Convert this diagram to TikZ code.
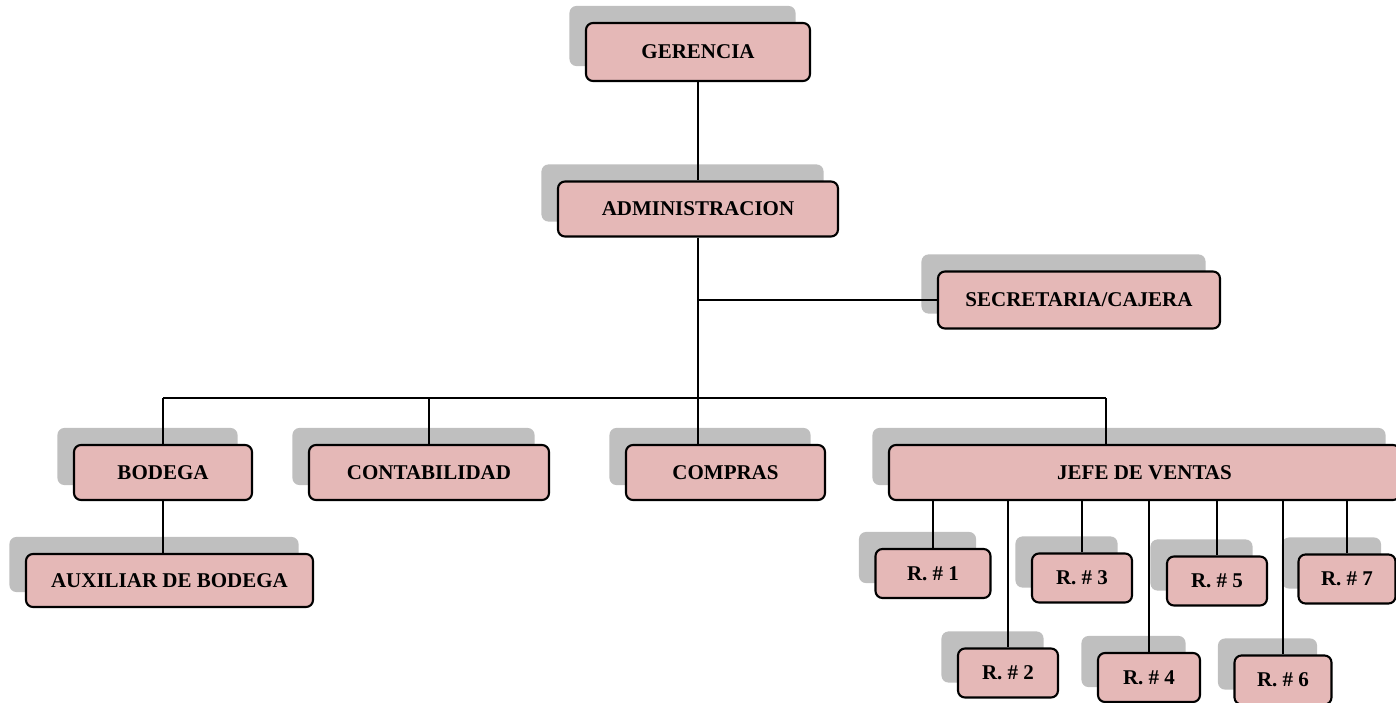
\documentclass[tikz,border=0pt]{standalone}
\usepackage{fontspec}
\setmainfont{Liberation Serif}
\definecolor{boxpink}{HTML}{E5B8B7}
\definecolor{shadegray}{HTML}{BFBFBF}
\pgfdeclarelayer{shade}
\pgfdeclarelayer{wires}
\pgfsetlayers{shade,wires,main}
\begin{document}
\begin{tikzpicture}[x=1pt, y=-1pt,
  box/.style={draw, line width=2.1pt, fill=boxpink, rounded corners=7pt, minimum height=55pt,
    inner sep=0pt, font=\fontsize{21}{24}\selectfont\bfseries},
  rbox/.style={box, minimum height=49pt, minimum width=100pt},
  wire/.style={line width=1.9pt}]
  \useasboundingbox (0,0) rectangle (1396,703);
  \node[box, minimum width=224pt, minimum height=58pt] (ger) at (698,52) {GERENCIA};
  \node[box, minimum width=280pt] (adm) at (698,209) {ADMINISTRACION};
  \node[box, minimum width=282pt, minimum height=57pt] (sec) at (1079,300) {SECRETARIA/CAJERA};
  \node[box, minimum width=178pt] (bod) at (163,472.5) {BODEGA};
  \node[box, minimum width=240pt] (con) at (429,472.5) {CONTABILIDAD};
  \node[box, minimum width=199pt] (com) at (725.5,472.5) {COMPRAS};
  \node[box, minimum width=511pt] (jef) at (1144.5,472.5) {JEFE DE VENTAS};
  \node[box, minimum width=287pt, minimum height=53pt] (aux) at (169.5,580.5) {AUXILIAR DE BODEGA};
  \node[rbox, minimum width=115pt] (r1) at (933,573.5) {R. \# 1};
  \node[rbox] (r2) at (1008,673) {R. \# 2};
  \node[rbox] (r3) at (1082,578) {R. \# 3};
  \node[rbox, minimum width=102pt] (r4) at (1149,677.5) {R. \# 4};
  \node[rbox] (r5) at (1217,581) {R. \# 5};
  \node[rbox, minimum width=97pt] (r6) at (1283,680) {R. \# 6};
  \node[rbox, minimum width=97pt] (r7) at (1347,579) {R. \# 7};
  % shadows behind the boxes
  \begin{pgfonlayer}{shade}
    \foreach \n in {ger,adm,sec,bod,con,com,jef,aux,r1,r2,r3,r4,r5,r6,r7}
      \fill[shadegray, rounded corners=7pt] ([shift={(-15.5,-16)}]\n.south west)
        rectangle ([shift={(-15.5,-16)}]\n.north east);
  \end{pgfonlayer}
  % connectors
  \begin{pgfonlayer}{wires}
  \begin{scope}[wire]
    \coordinate (bl) at (163,398);
    \coordinate (br) at (1106,398);
    \draw (ger.south) -- (adm.north);
    \draw (adm.south) -- (adm.south |- bl);
    \draw (adm.south |- sec.west) -- (sec.west);
    \draw (bl) -- (br);
    \draw (bl) -- (bod.north);
    \draw (con.north |- bl) -- (con.north);
    \draw (adm.south |- bl) -- (com.north -| adm.south);
    \draw (br) -- (br |- jef.north);
    \draw (bod.south) -- (bod.south |- aux.north);
    \foreach \r in {1,...,7}
      \draw (r\r.north |- jef.south) -- (r\r.north);
  \end{scope}
  \end{pgfonlayer}
\end{tikzpicture}
\end{document}
